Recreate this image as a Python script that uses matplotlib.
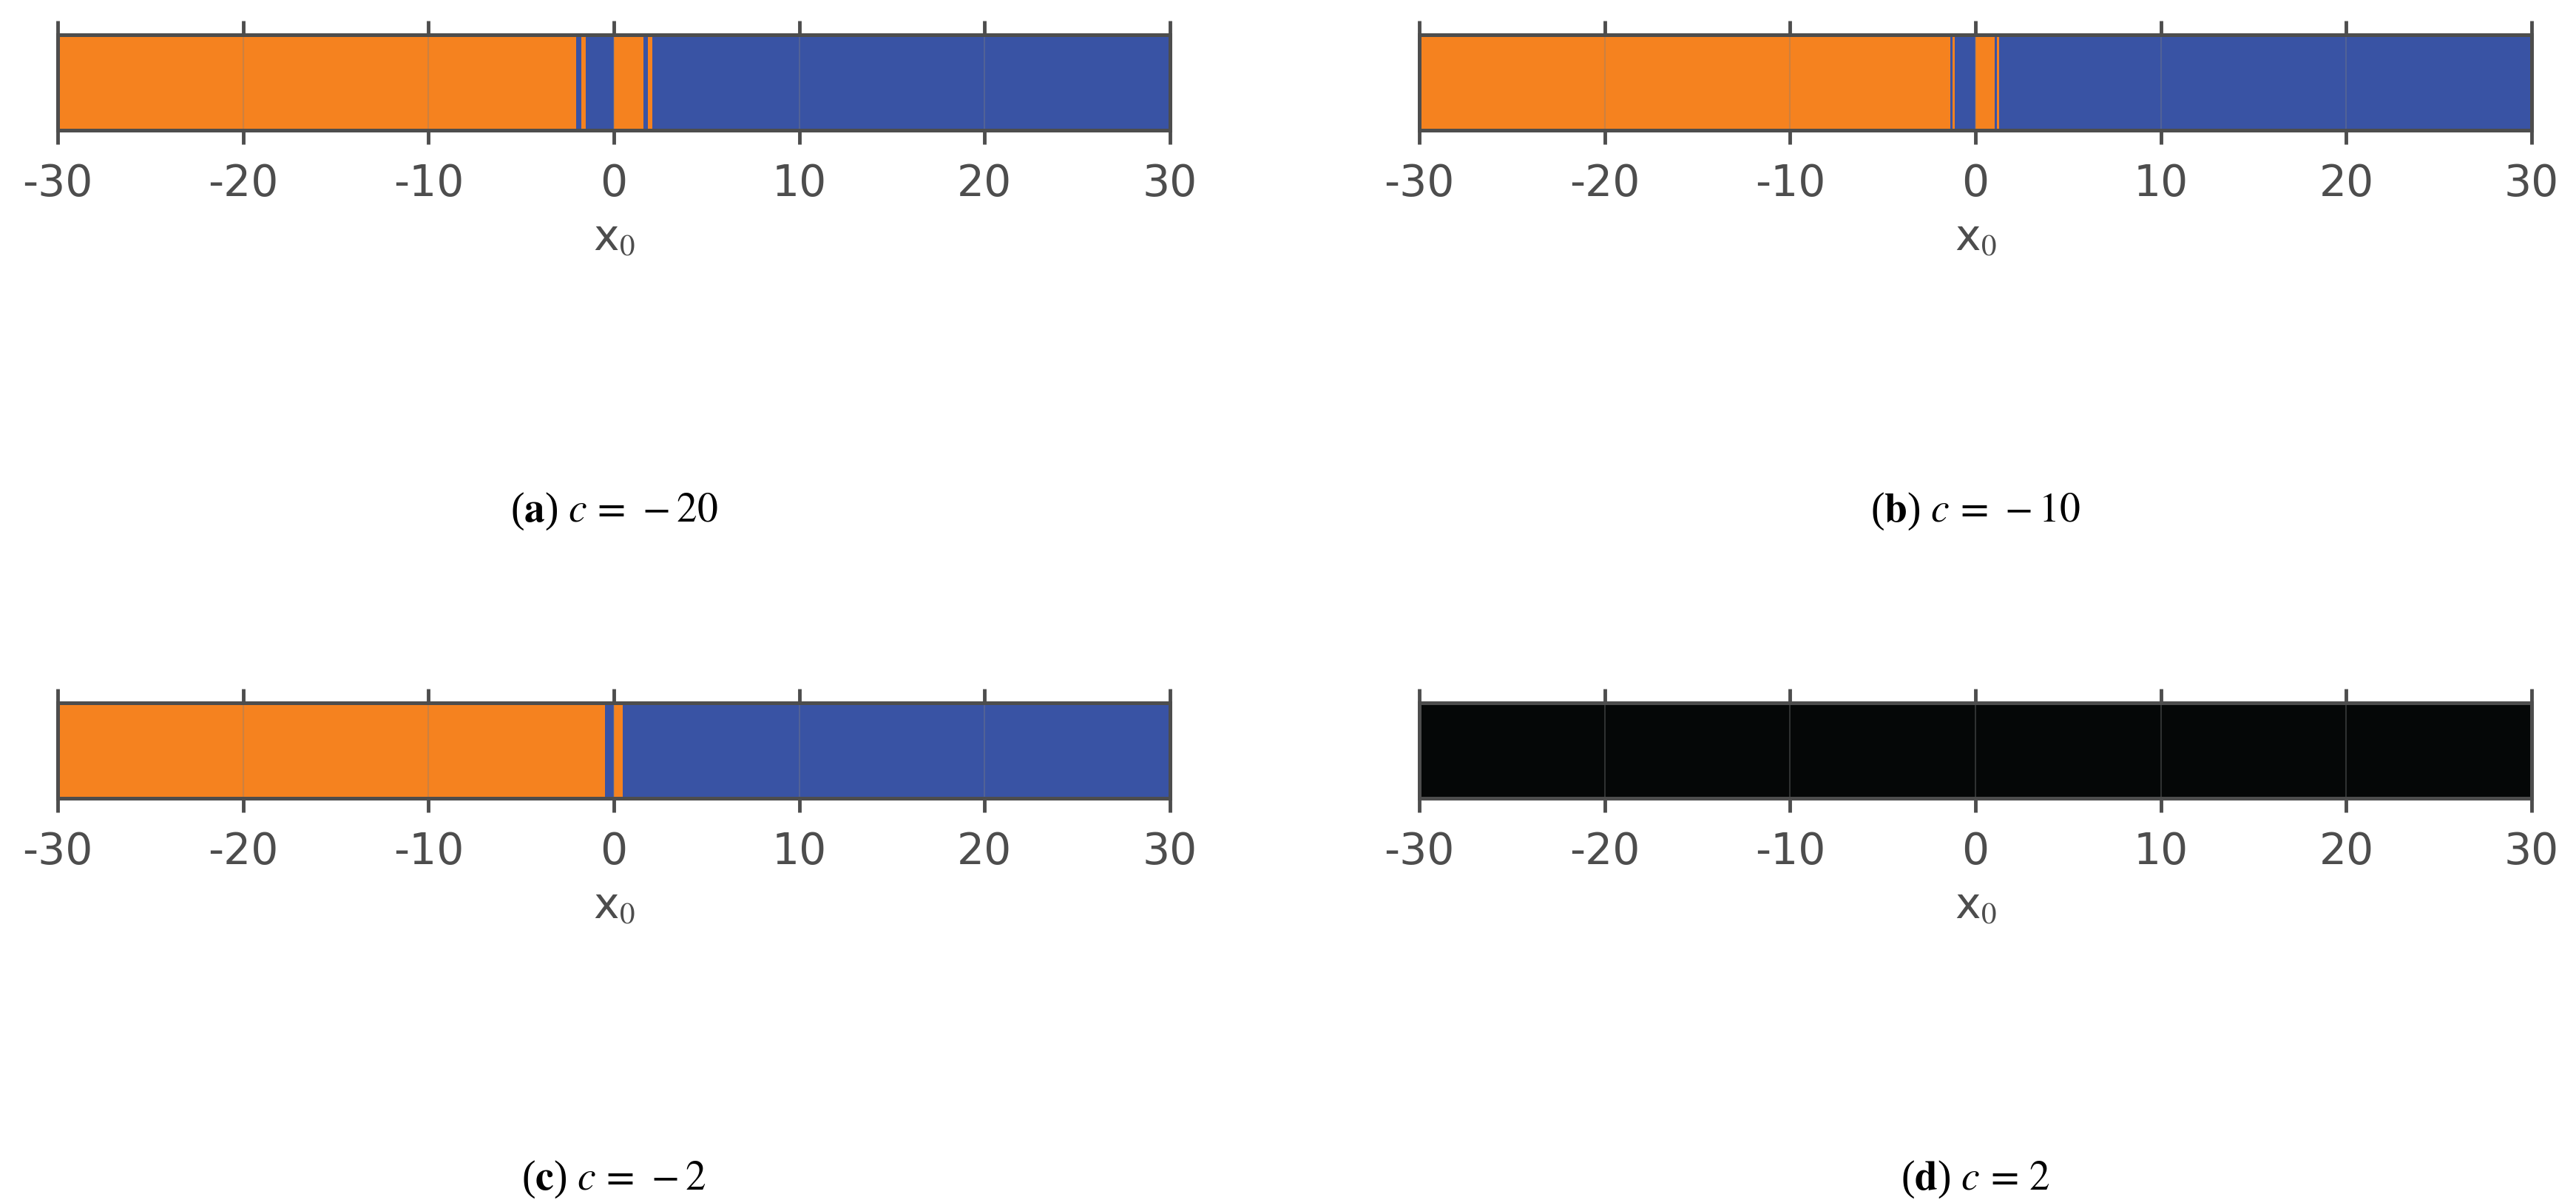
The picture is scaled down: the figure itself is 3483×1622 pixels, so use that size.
"""
four strips showing which side each starting point x0 ends up on,
one strip per value of c
"""

import matplotlib.pyplot as plt

orange = "#f5821f"
blue = "#3953a4"
black = "#050707"
grey = "#4d4d4d"

# where the colour changes along x0, for each c (colours alternate, start orange)
edges_a = [-30, -2.02, -1.74, -1.50, 0.0, 1.61, 1.85, 2.09, 30]
edges_b = [-30, -1.35, -1.23, -1.12, 0.0, 1.04, 1.16, 1.28, 30]
edges_c = [-30, -0.46, 0.0, 0.49, 30]
edges_d = [-30, 30]

colors_a = [orange, blue, orange, blue, orange, blue, orange, blue]
colors_b = [orange, blue, orange, blue, orange, blue, orange, blue]
colors_c = [orange, blue, orange, blue]
colors_d = [black]

captions = [r"($\mathbf{a}$) $c\,=\,-20$", r"($\mathbf{b}$) $c\,=\,-10$",
            r"($\mathbf{c}$) $c\,=\,-2$", r"($\mathbf{d}$) $c\,=\,2$"]
ticks = [-30, -20, -10, 0, 10, 20, 30]

plt.rcParams["mathtext.fontset"] = "stix"

fig = plt.figure(figsize=(34.83, 16.22), dpi=100)

# left, bottom for each panel
spots = [(0.0224, 0.8915), (0.551, 0.8915), (0.0224, 0.3348), (0.551, 0.3348)]
panels = [(edges_a, colors_a), (edges_b, colors_b), (edges_c, colors_c), (edges_d, colors_d)]

for (left, bottom), (edges, colors), cap in zip(spots, panels, captions):
    ax = fig.add_axes([left, bottom, 0.4318, 0.0795])
    for x0, x1, col in zip(edges[:-1], edges[1:], colors):
        ax.axvspan(x0, x1, color=col, lw=0)
    ax.set_xlim(-30, 30)
    ax.set_ylim(0, 1)
    ax.set_yticks([])
    ax.set_xticks(ticks)
    ax.set_xticklabels([str(t) for t in ticks])
    ax.grid(axis="x", color="#808080", alpha=0.35, lw=1.5)
    ax.tick_params(axis="x", which="both", top=True, direction="out", length=14,
                   width=3.5, color=grey, labelcolor=grey, labelsize=42, pad=18)
    for s in ax.spines.values():
        s.set_color(grey)
        s.set_linewidth(3.6)
    ax.set_xlabel(r"x$_0$", fontsize=42, color=grey, labelpad=12)
    ax.text(0.5, -4.0, cap, transform=ax.transAxes, ha="center", va="center",
            fontsize=40, family="Liberation Serif", color="black")

fig.savefig("out.png", dpi=100)
